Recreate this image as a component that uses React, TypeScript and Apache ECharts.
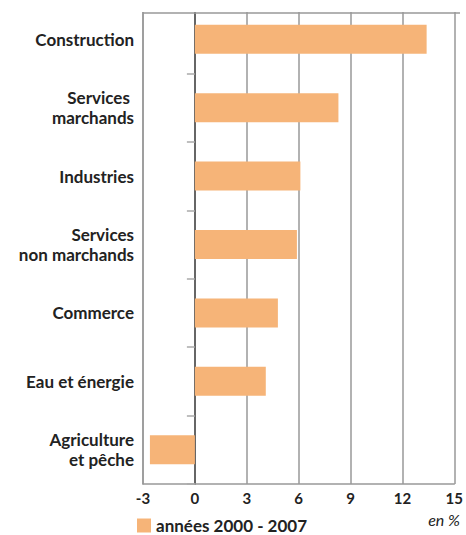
import React, { useEffect, useRef } from "react";
import * as echarts from "echarts";

const categories = [
  "Construction",
  "Services \nmarchands",
  "Industries",
  "Services\nnon marchands",
  "Commerce",
  "Eau et énergie",
  "Agriculture\net pêche",
];
const values = [13.4, 8.3, 6.1, 5.9, 4.8, 4.1, -2.6];
const xTicks = { min: -3, max: 15, interval: 3 };
const seriesName = "années 2000 - 2007";
const unitLabel = "en %";

const FONT = "Lato, 'Open Sans', sans-serif";

export default function App() {
  const ref = useRef<HTMLDivElement>(null);
  useEffect(() => {
    if (!ref.current) return;
    const chart = echarts.init(ref.current, undefined, { renderer: "svg" });
    const cats = [...categories].reverse();
    const vals = [...values].reverse();
    chart.setOption({
      animation: false,
      grid: { left: 143, right: 6, top: 5, bottom: 51, containLabel: false },
      legend: {
        data: [seriesName],
        left: 132,
        top: 512,
        itemWidth: 14,
        itemHeight: 14,
        itemGap: 4,
        icon: "rect",
        textStyle: { fontFamily: FONT, fontSize: 17, fontWeight: "bold", color: "#222" },
      },
      xAxis: {
        type: "value",
        min: xTicks.min,
        max: xTicks.max,
        interval: xTicks.interval,
        axisLine: { show: true, onZero: false, lineStyle: { color: "#999", width: 1.5 } },
        axisTick: { show: false },
        splitLine: { show: true, lineStyle: { color: "#999", width: 1.5 } },
        axisLabel: { fontFamily: FONT, fontSize: 15, fontWeight: "bold", color: "#222", margin: 6 },
      },
      yAxis: [
        {
          type: "category",
          data: cats,
          position: "left",
          axisLine: { show: true, onZero: false, lineStyle: { color: "#999", width: 1.5 } },
          axisTick: { show: false },
          splitLine: { show: false },
          axisLabel: {
            fontFamily: FONT,
            fontSize: 17,
            fontWeight: "bold",
            color: "#222",
            align: "right",
            margin: 9,
            lineHeight: 20,
          },
        },
        {
          type: "category",
          data: cats,
          position: "left",
          axisLine: { show: true, onZero: true, lineStyle: { color: "#666", width: 2 } },
          axisTick: { show: true, length: 8, lineStyle: { color: "#aaa", width: 1.5 } },
          axisLabel: { show: false },
          splitLine: { show: false },
        },
      ],
      series: [
        {
          name: seriesName,
          type: "bar",
          data: vals,
          yAxisIndex: 0,
          barWidth: 29,
          itemStyle: { color: "#f6b478" },
        },
      ],
      graphic: [
        {
          type: "rect",
          shape: { x: 140, y: 0, width: 326, height: 12 },
          style: { fill: "#fff" },
          z: 100,
        },
        {
          type: "line",
          shape: { x1: 143, y1: 13, x2: 460, y2: 13 },
          style: { stroke: "#999", lineWidth: 1.5 },
          z: 101,
        },
        {
          type: "text",
          right: 6,
          top: 511,
          style: { text: unitLabel, fontFamily: FONT, fontSize: 16, fontStyle: "italic", fill: "#222" },
          z: 101,
        },
      ],
    });
    return () => chart.dispose();
  }, []);
  return (
    <div
      ref={ref}
      style={{ position: "absolute", left: 0, top: 0, width: 466, height: 535 }}
    />
  );
}
